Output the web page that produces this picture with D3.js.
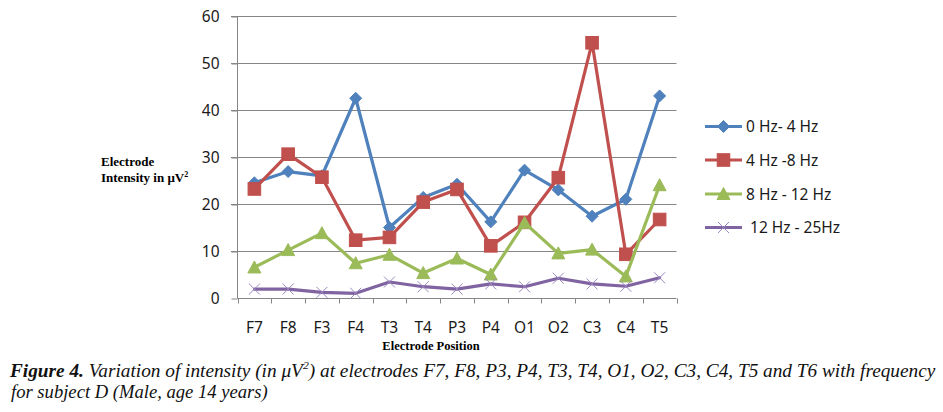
<!DOCTYPE html>
<html>
<head>
<meta charset="utf-8">
<script src="https://cdn.jsdelivr.net/npm/d3@7"></script>
<style>
  html, body { margin: 0; padding: 0; background: #fff; }
  svg { display: block; }
</style>
</head>
<body>
<svg id="chart" width="943" height="412"></svg>
<script>
// ---- data ----
const categories = ["F7","F8","F3","F4","T3","T4","P3","P4","O1","O2","C3","C4","T5"];
const seriesNames = ["0 Hz- 4 Hz", "4 Hz -8 Hz", "8 Hz - 12 Hz", " 12 Hz - 25Hz"];
const band0to4   = [24.5, 26.9, 26.0, 42.5, 15.0, 21.4, 24.2, 16.2, 27.2, 23.0, 17.4, 21.0, 43.0];
const band4to8   = [23.2, 30.6, 25.7, 12.3, 12.9, 20.4, 23.1, 11.1, 16.1, 25.6, 54.3,  9.3, 16.7];
const band8to12  = [ 6.5, 10.2, 13.8,  7.4,  9.2,  5.3,  8.4,  5.0, 16.0,  9.5, 10.3,  4.6, 24.0];
const band12to25 = [ 1.9,  1.9,  1.2,  1.0,  3.4,  2.4,  1.9,  3.0,  2.4,  4.2,  3.0,  2.5,  4.3];
const yTicks = [0, 10, 20, 30, 40, 50, 60];
const seriesColors = ["#4F81BD", "#C0504D", "#9BBB59", "#8064A2"];
const seriesMarkers = ["diamond", "square", "triangle", "cross"];
const seriesData = [band0to4, band4to8, band8to12, band12to25];

// ---- layout ----
const svg = d3.select("#chart");
const x = d3.scaleBand().domain(categories).range([237.5, 676.5]);
const y = d3.scaleLinear().domain([0, 60]).range([298, 16]);
const gridColor = "#868686";
const axisFont = "'Noto Sans', 'Open Sans', sans-serif";

// gridlines
svg.append("g").selectAll("line").data(yTicks.filter(t => t > 0)).join("line")
  .attr("x1", 231).attr("x2", 676.5)
  .attr("y1", d => Math.round(y(d)) + 0.5).attr("y2", d => Math.round(y(d)) + 0.5)
  .attr("stroke", gridColor).attr("stroke-width", 1);

// y axis
const yAxis = d3.axisLeft(y).tickValues(yTicks).tickSize(6).tickPadding(12);
const gy = svg.append("g").attr("transform", "translate(237.5,0.5)").call(yAxis);
gy.select(".domain").attr("stroke", gridColor).attr("d", `M0,${y(60)}V${y(0)}`);
gy.selectAll(".tick line").attr("stroke", gridColor);
gy.selectAll(".tick text").attr("font-family", axisFont).attr("font-size", 15.5).attr("fill", "#1a1a1a");

// x axis
const gx = svg.append("g").attr("transform", `translate(0,${Math.round(y(0)) + 0.5})`);
gx.append("line").attr("x1", 237.5).attr("x2", 676.5).attr("stroke", gridColor);
const bounds = categories.map(c => x(c)).concat([x.range()[1]]);
gx.selectAll("line.tk").data(bounds).join("line").attr("class", "tk")
  .attr("x1", d => Math.round(d) + 0.5).attr("x2", d => Math.round(d) + 0.5)
  .attr("y1", 0).attr("y2", 5).attr("stroke", gridColor);
gx.selectAll("text").data(categories).join("text")
  .attr("x", d => x(d) + x.bandwidth() / 2).attr("y", 34)
  .attr("text-anchor", "middle")
  .attr("font-family", axisFont).attr("font-size", 15.5).attr("fill", "#1a1a1a")
  .text(d => d);

// marker drawing
function drawMarker(g, type, color, cx, cy) {
  if (type === "diamond") {
    const r = 6;
    g.append("path").attr("d", `M${cx},${cy - r}L${cx + r},${cy}L${cx},${cy + r}L${cx - r},${cy}Z`)
      .attr("fill", color).attr("stroke", color).attr("stroke-width", 1);
  } else if (type === "square") {
    const s = 6.3;
    g.append("rect").attr("x", cx - s).attr("y", cy - s).attr("width", 2 * s).attr("height", 2 * s)
      .attr("fill", color).attr("stroke", color).attr("stroke-width", 1);
  } else if (type === "triangle") {
    const h = 6.5;
    g.append("path").attr("d", `M${cx},${cy - h}L${cx + h},${cy + h * 0.85}L${cx - h},${cy + h * 0.85}Z`)
      .attr("fill", color).attr("stroke", color).attr("stroke-width", 1);
  } else if (type === "cross") {
    const r = 5.5;
    g.append("path").attr("d", `M${cx - r},${cy - r}L${cx + r},${cy + r}M${cx - r},${cy + r}L${cx + r},${cy - r}`)
      .attr("fill", "none").attr("stroke", "#9c88c0").attr("stroke-width", 1);
  }
}

// series
const line = d3.line()
  .x((d, i) => x(categories[i]) + x.bandwidth() / 2)
  .y(d => y(d));
seriesData.forEach((vals, si) => {
  const g = svg.append("g");
  g.append("path").datum(vals).attr("d", line)
    .attr("fill", "none").attr("stroke", seriesColors[si]).attr("stroke-width", 3.2)
    .attr("stroke-linejoin", "round").attr("stroke-linecap", "round");
  vals.forEach((v, i) => drawMarker(g, seriesMarkers[si], seriesColors[si], x(categories[i]) + x.bandwidth() / 2, y(v)));
});

// legend
const legendY = [126.5, 160, 194, 227.5];
seriesNames.forEach((name, si) => {
  const g = svg.append("g");
  g.append("line").attr("x1", 705).attr("x2", 742).attr("y1", legendY[si]).attr("y2", legendY[si])
    .attr("stroke", seriesColors[si]).attr("stroke-width", 3.2);
  drawMarker(g, seriesMarkers[si], seriesColors[si], 723.5, legendY[si]);
  g.append("text").attr("x", 746).attr("y", legendY[si] + 5.5)
    .attr("font-family", axisFont).attr("font-size", 15.5).attr("fill", "#1a1a1a")
    .style("white-space", "pre").text(name);
});

// y axis title
const serif = "'Liberation Serif', 'Times New Roman', serif";
svg.append("text").attr("x", 101).attr("y", 166)
  .attr("font-family", serif).attr("font-weight", "bold").attr("font-size", 13)
  .text("Electrode");
const yt = svg.append("text").attr("x", 101).attr("y", 182)
  .attr("font-family", serif).attr("font-weight", "bold").attr("font-size", 13);
yt.append("tspan").text("Intensity in μV");
yt.append("tspan").attr("font-size", 8).attr("dy", -5).text("2");

// x axis title
svg.append("text").attr("x", 431).attr("y", 350).attr("text-anchor", "middle")
  .attr("font-family", serif).attr("font-weight", "bold").attr("font-size", 12.5)
  .text("Electrode Position");

// caption
function fitText(sel, x0, width) {
  const w = sel.node().getComputedTextLength();
  sel.attr("transform", `translate(${x0},0) scale(${width / w},1) translate(${-x0},0)`);
}
const cap1 = svg.append("text").attr("x", 10).attr("y", 377)
  .attr("font-family", serif).attr("font-style", "italic").attr("font-size", 18).attr("fill", "#111");
cap1.append("tspan").attr("font-weight", "bold").text("Figure 4.");
cap1.append("tspan").text(" Variation of intensity (in μV");
cap1.append("tspan").attr("font-size", 11).attr("dy", -8).text("2");
cap1.append("tspan").attr("dy", 8).text(") at electrodes F7, F8, P3, P4, T3, T4, O1, O2, C3, C4, T5 and T6 with frequency");
fitText(cap1, 10, 926);
const cap2 = svg.append("text").attr("x", 11).attr("y", 398.5)
  .attr("font-family", serif).attr("font-style", "italic").attr("font-size", 18).attr("fill", "#111")
  .text("for subject D (Male, age 14 years)");
fitText(cap2, 11, 257);
</script>
</body>
</html>
